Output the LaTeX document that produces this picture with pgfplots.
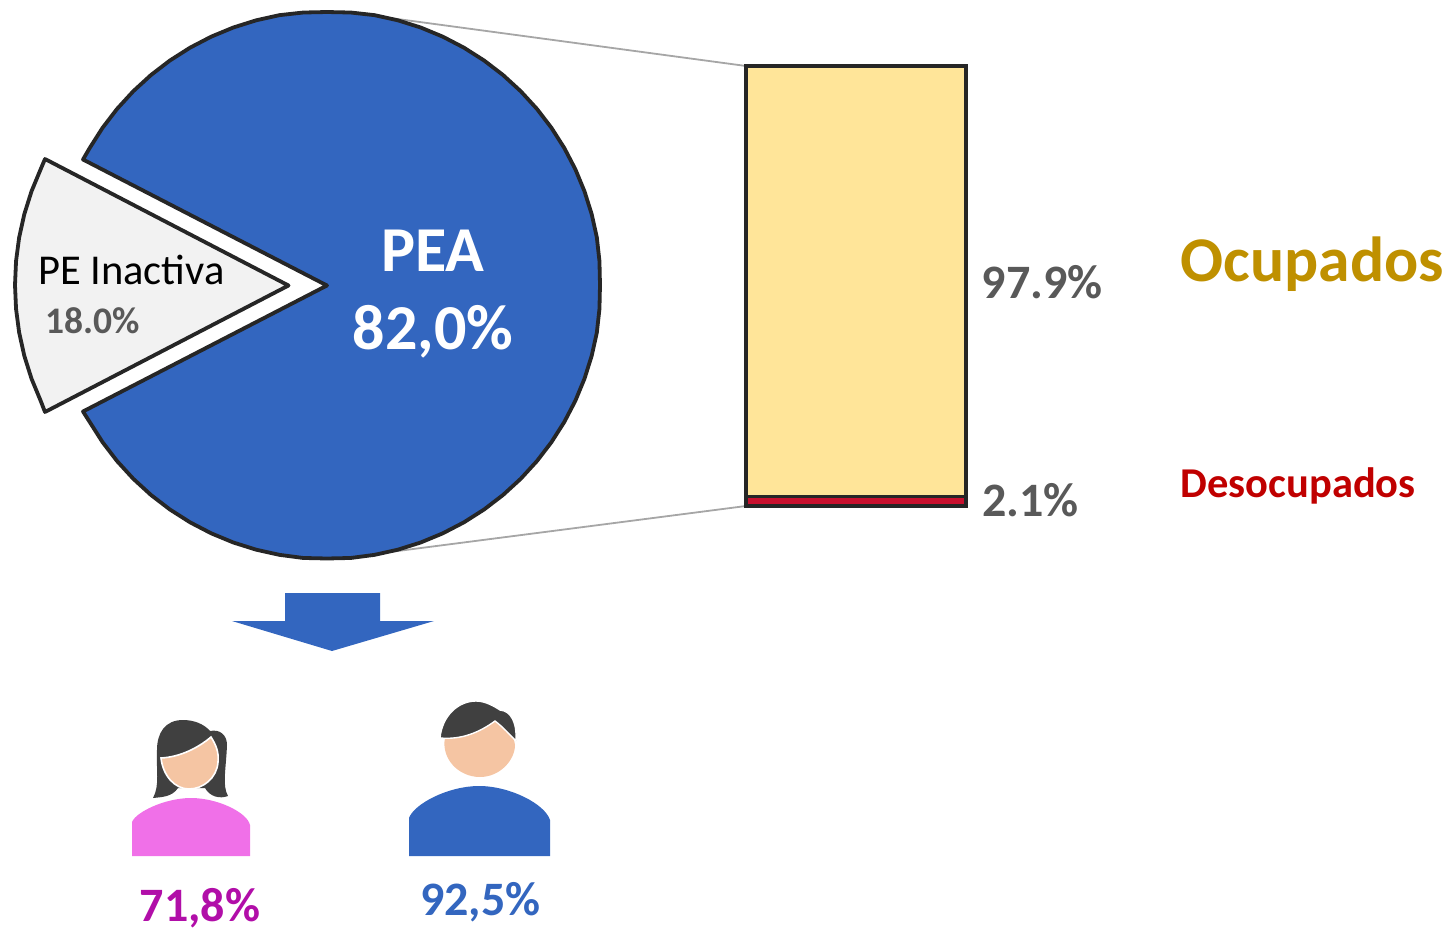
\documentclass[border=0pt]{standalone}
\usepackage{pgfplots}
\pgfplotsset{compat=1.18}
\usepackage{fontspec}
\setmainfont{Carlito}
\definecolor{pblue}{HTML}{3366BF}
\definecolor{edge}{HTML}{262626}
\definecolor{ltgray}{HTML}{F2F2F2}
\definecolor{byel}{HTML}{FFE599}
\definecolor{bred}{HTML}{C8102E}
\definecolor{gold}{HTML}{BF9000}
\definecolor{dred}{HTML}{C00000}
\definecolor{grtx}{HTML}{595959}
\definecolor{pink}{HTML}{F070E8}
\definecolor{magt}{HTML}{B10EA8}
\definecolor{hair}{HTML}{404040}
\definecolor{skin}{HTML}{F5C5A3}
\newcommand{\fs}[1]{\fontsize{#1}{#1}\selectfont}
\begin{document}
\begin{tikzpicture}
\useasboundingbox (0pt,0pt) rectangle (1449pt,931pt);
\begin{axis}[
  at={(0pt,0pt)},anchor=south west,
  width=1449pt,height=931pt,scale only axis,
  xmin=0,xmax=1449,ymin=0,ymax=931,y dir=reverse,
  hide axis,clip=false]
% leader lines
\addplot[color=black!35,line width=1.8pt] coordinates {(390,18) (746,66)};
\addplot[color=black!35,line width=1.8pt] coordinates {(390,552) (746,506)};
% PEA 82.0
\addplot[fill=pblue,draw=edge,line width=3.8pt,line join=round] coordinates {
(327,285.5) (83,159.5) (89.71,148) (102.55,127.84) (117.10,108.88) (133.25,91.25) (150.88,75.10) (169.84,60.55)
(190,47.71) (211.20,36.67) (233.29,27.52) (256.08,20.34) (279.42,15.16) (303.12,12.54) (327,12)
(350.88,12.54) (374.58,15.16) (397.92,20.34) (420.71,27.52) (442.80,36.67) (464,47.71) (484.16,60.55)
(503.12,75.10) (520.75,91.25) (536.90,108.88) (551.45,127.84) (564.29,148) (575.33,169.20) (584.48,191.29)
(591.66,214.08) (596.84,237.42) (599.46,261.12) (600,285) (599.46,308.88) (596.84,332.58) (591.66,355.92)
(584.48,378.71) (575.33,400.80) (564.29,422) (551.45,442.16) (536.90,461.12) (520.75,478.75) (503.12,494.90)
(484.16,509.45) (464,522.29) (442.80,533.33) (420.71,542.48) (397.92,549.66) (374.58,554.84) (350.88,557.96)
(327,558.5) (303.12,557.96) (279.42,554.84) (256.08,549.66) (233.29,542.48) (211.20,533.33) (190,522.29)
(169.84,509.45) (150.88,494.90) (133.25,478.75) (117.10,461.12) (102.55,442.16) (89.71,422) (83,411.5)
(327,285.5)} -- cycle;
% PE Inactiva 18.0
\addplot[fill=ltgray,draw=edge,line width=3.8pt,line join=round] coordinates {
(288.5,285.5) (45,159) (40.67,169.2) (31.52,191.29) (24.34,214.08) (19.16,237.42) (16.04,261.12) (15,285)
(16.04,308.88) (19.16,332.58) (24.34,355.92) (31.52,378.71) (40.67,400.8) (45,412) (288.5,285.5)} -- cycle;
% arrow
\addplot[fill=pblue,draw=none] coordinates {
(285,593) (380,593) (380,621) (434,621) (332,651) (232,621) (285,621) (285,593)} -- cycle;
% woman
\fill[hair] (183,720) .. controls (165,720) and (157,733) .. (157,750)
  .. controls (156,770) and (160,785) .. (153,798)
  .. controls (162,797) and (172,797) .. (178,788)
  -- (205,788) .. controls (210,797) and (220,799) .. (228,796)
  .. controls (222,785) and (226,770) .. (227,745)
  .. controls (227,735) and (220,729) .. (210,731)
  .. controls (204,724) and (194,720) .. (183,720) -- cycle;
\fill[skin,draw=white,line width=1.6pt] (161,758)
  .. controls (180,757) and (198,748) .. (211,737)
  .. controls (216,745) and (219,752) .. (218,762)
  .. controls (217,778) and (203,789) .. (189,789)
  .. controls (175,789) and (163,776) .. (161,758) -- cycle;
\fill[pink] (132,856) -- (132,822) .. controls (136,812) and (165,798) .. (191,798)
  .. controls (217,798) and (247,812) .. (250,825) -- (250,856) -- cycle;
% man
\fill[skin] (445,738) .. controls (441,758) and (458,777) .. (480,777)
  .. controls (500,777) and (515,760) .. (515,745)
  .. controls (514,735) and (505,725) .. (496,721) -- cycle;
\fill[hair,draw=white,line width=1.4pt] (440,738)
  .. controls (442,716) and (458,701) .. (476,701)
  .. controls (485,701) and (494,706) .. (500,710)
  .. controls (511,711) and (517,722) .. (516,741)
  .. controls (510,735) and (503,727) .. (495,721)
  .. controls (480,732) and (462,740) .. (440,738) -- cycle;
\fill[pblue] (409,856) -- (409,818) .. controls (414,804) and (448,786) .. (479,786)
  .. controls (510,786) and (545,804) .. (550,820) -- (550,856) -- cycle;
% texts
\node[anchor=base,inner sep=0,text=white] at (433,271) {\fs{64}\bfseries PEA};
\node[anchor=base,inner sep=0,text=white] at (433,349) {\fs{64}\bfseries 82,0\%};
\node[anchor=base west,inner sep=0,text=black] at (38,284) {\fs{42.5}PE Inactiva};
\node[anchor=base west,inner sep=0,text=grtx] at (45.5,333) {\fs{37.5}\bfseries 18.0\%};
\node[anchor=base west,inner sep=0,text=grtx] at (981.5,298) {\fs{48}\bfseries 97.9\%};
\node[anchor=base west,inner sep=0,text=grtx] at (982,516) {\fs{48}\bfseries 2.1\%};
\node[anchor=base west,inner sep=0,text=gold] at (1180.5,281) {\fs{63.7}\bfseries Ocupados};
\node[anchor=base west,inner sep=0,text=dred] at (1180.5,497) {\fs{42.5}\bfseries Desocupados};
\node[anchor=base west,inner sep=0,text=magt] at (139.5,921) {\fs{48}\bfseries 71,8\%};
\node[anchor=base west,inner sep=0,text=pblue] at (420,915) {\fs{48}\bfseries 92,5\%};
\end{axis}
\begin{axis}[
  at={(746pt,425pt)},anchor=south west,
  width=220pt,height=440pt,scale only axis,
  xmin=-0.5,xmax=0.5,ymin=0,ymax=100,
  hide axis,clip=false,
  ybar stacked,bar width=220pt]
\addplot[fill=bred,draw=edge,line width=3.4pt] coordinates {(0,2.1)};
\addplot[fill=byel,draw=edge,line width=3.4pt] coordinates {(0,97.9)};
\end{axis}
\end{tikzpicture}
\end{document}
